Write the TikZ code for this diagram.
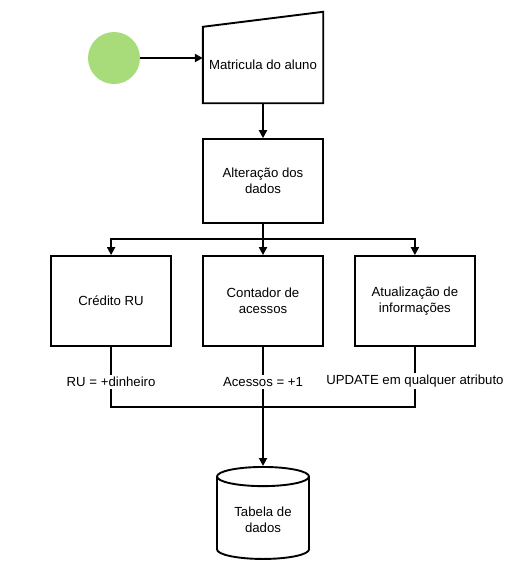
\documentclass[tikz,border=0pt]{standalone}
\usepackage{fontspec}
\setmainfont{Liberation Sans}
\usepackage{tikz}
\usetikzlibrary{arrows.meta, positioning, shapes.geometric, calc}
\definecolor{startgreen}{HTML}{A8DB7A}

\begin{document}
\begin{tikzpicture}[x=1pt, y=-1pt, node distance=30pt and 30pt,
    start/.style={circle, fill=startgreen, minimum size=52pt, inner sep=0pt},
    process/.style={rectangle, draw=black, line width=1.9pt, minimum width=120pt,
                    minimum height=#1, align=center, font=\fontsize{13.2}{16}\selectfont},
    process/.default={90pt},
    manual/.style={rectangle, minimum width=120pt, minimum height=76pt,
                   align=center, font=\fontsize{13.2}{16}\selectfont},
    storage/.style={cylinder, shape border rotate=90, draw=black, line width=1.9pt,
                    minimum width=92pt, minimum height=92pt, aspect=0.3,
                    align=center, font=\fontsize{13.2}{16}\selectfont},
    flow label/.style={fill=white, inner sep=2pt, font=\fontsize{13.2}{16}\selectfont},
    data flow/.style={-{Triangle[length=8pt, width=8pt]}, line width=1.9pt},
    plain flow/.style={line width=1.9pt},
]
    \useasboundingbox (0,0) rectangle (527,576);

    % -- Entrada --
    \node[start] (inicio) at (114,58) {};
    \node[manual] (matricula) at (263,65) {Matricula do aluno};
    \draw[line width=1.9pt, line join=miter]
        (matricula.south west) -- (matricula.north west)
        -- ([yshift=15pt]matricula.north east) -- (matricula.south east) -- cycle;

    \draw[data flow] (inicio) -- (inicio -| matricula.west);

    % -- Processamento --
    \node[process=84pt, below=35pt of matricula] (alteracao) {Altera\c{c}\~ao dos\\dados};
    \draw[data flow] (matricula) -- (alteracao);

    \node[process, below=31pt of alteracao] (contador) {Contador de\\acessos};
    \node[process, left=of contador] (credito) {Cr\'edito RU};
    \node[process, right=of contador] (atualizacao) {Atualiza\c{c}\~ao de\\informa\c{c}\~oes};

    \coordinate (split) at ($(alteracao.south)+(0,15)$);
    \draw[plain flow] (alteracao) -- (split);
    \draw[data flow] (split) -| (credito.north);
    \draw[data flow] (split) -| (atualizacao.north);
    \draw[data flow] (split) -- (contador.north);

    % -- Saida --
    \node[storage, below=119pt of contador] (tabela) {Tabela de\\dados};
    \coordinate (merge) at ($(contador.south)+(0,60)$);

    \draw[plain flow] (credito.south) -- (credito.south |- merge) -- (atualizacao.south |- merge)
        -- (atualizacao.south);
    \draw[plain flow] (contador.south) -- (merge);
    \draw[data flow] (merge) -- (tabela.top);

    \node[flow label] (ru) at ($(credito.south)+(0,35)$) {RU = +dinheiro};
    \node[flow label] (acessos) at ($(contador.south)+(0,35)$) {Acessos = +1};
    \node[flow label] (update) at ($(atualizacao.south)+(0,34)$) {UPDATE em qualquer atributo};

\end{tikzpicture}
\end{document}
